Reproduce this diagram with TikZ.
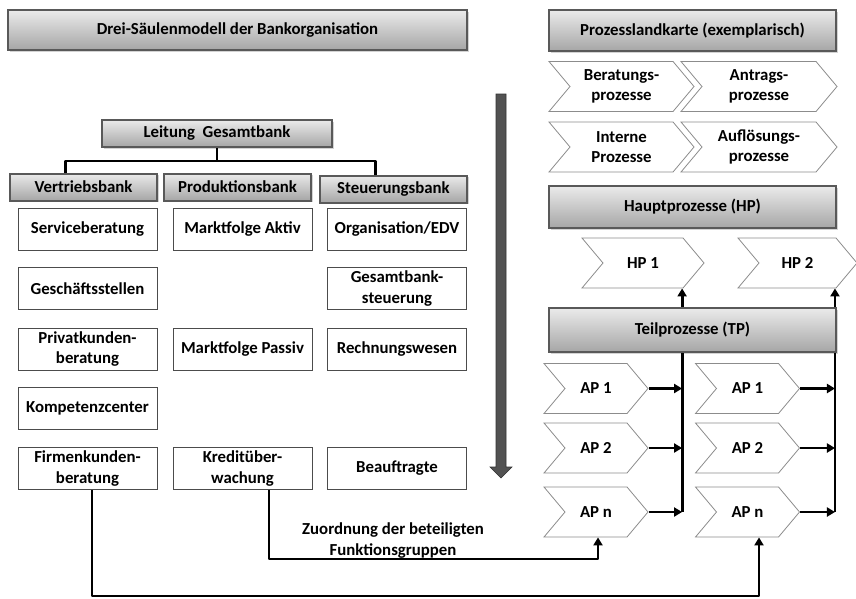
\documentclass[tikz,border=0pt]{standalone}
\usepackage{fontspec}
\setmainfont{Carlito}
\usetikzlibrary{shapes.symbols,shadows,arrows.meta,calc}

\tikzset{
  txt/.style={font=\bfseries\fontsize{16.8}{20.5}\selectfont, align=center, inner sep=0pt},
  headbox/.style={txt, draw=black!65, line width=2pt, top color=black!8, bottom color=black!35,
    drop shadow={shadow xshift=1.5pt, shadow yshift=-1.5pt, opacity=0.35}},
  unitbox/.style={txt, draw=black!70, line width=1pt, fill=white, minimum width=139pt, minimum height=42pt},
  chev/.style={txt, shape=signal, signal from=west, signal to=east, signal pointer angle=100,
    draw=black!45, line width=0.8pt, fill=white, minimum height=50pt},
  conn/.style={line width=2.9pt, black},
  arr/.style={conn, -{Triangle[length=8pt,width=9pt]}},
}

\begin{document}
\begin{tikzpicture}[x=1pt, y=-1pt]
\useasboundingbox (0,0) rectangle (856,598);

% --- Three-pillar organisation ---
\node[headbox, minimum width=459pt, minimum height=40pt] (title) at (237.5,30) {Drei-Säulenmodell der Bankorganisation};

\node[headbox, minimum width=230pt, minimum height=27pt] (lead) at (217,133.5) {Leitung\ \ Gesamtbank};
\node[headbox, minimum width=147pt, minimum height=27pt] (vert) at (83.5,187) {Vertriebsbank};
\node[headbox, minimum width=147pt, minimum height=27pt] (prod) at (237.5,187) {Produktionsbank};
\node[headbox, minimum width=147pt, minimum height=27pt] (steu) at (393.5,189) {Steuerungsbank};

\draw[line width=2.6pt, line join=round] (lead.south) -- ++(0,13) coordinate (j)
  ($(vert.north west)!0.38!(vert.north east)$) |- (j) -| ($(steu.north west)!0.38!(steu.north east)$);

% column 1
\node[unitbox] (serv) at (87.5,229) {Serviceberatung};
\node[unitbox] (gesch) at (87.5,288.5) {Geschäftsstellen};
\node[unitbox] (priv) at (87.5,349) {Privatkunden-\\beratung};
\node[unitbox] (komp) at (87.5,408.5) {Kompetenzcenter};
\node[unitbox] (firm) at (87.5,468.5) {Firmenkunden-\\beratung};
% column 2
\node[unitbox] (mfa) at (242.5,229) {Marktfolge Aktiv};
\node[unitbox] (mfp) at (242.5,349) {Marktfolge Passiv};
\node[unitbox] (kred) at (242.5,468.5) {Kreditüber-\\wachung};
% column 3
\node[unitbox] (org) at (397,229) {Organisation/EDV};
\node[unitbox] (gbs) at (397,288.5) {Gesamtbank-\\steuerung};
\node[unitbox] (rech) at (397,349) {Rechnungswesen};
\node[unitbox] (beau) at (397,468.5) {Beauftragte};

% big downward arrow
\draw[fill=black!68, draw=black!80, line width=0.6pt]
  (496,94) -- (506,94) -- (506,467) -- (512,467) -- (501,478) -- (490,467) -- (496,467) -- cycle;

% --- Process map ---
\node[headbox, minimum width=287pt, minimum height=41pt] (pk) at (692.5,30.5) {Prozesslandkarte (exemplarisch)};
\node[chev, minimum width=145pt] (ber) at (621.5,86.5) {Beratungs-\\prozesse};
\node[chev, minimum width=156pt] (ant) at (759,86.5) {Antrags-\\prozesse};
\node[chev, minimum width=145pt] (int) at (621.5,147) {Interne\\Prozesse};
\node[chev, minimum width=156pt] (auf) at (759,147) {Auflösungs-\\prozesse};

\node[headbox, minimum width=287pt, minimum height=42pt] (hp) at (692.5,207) {Hauptprozesse (HP)};
\node[chev, minimum width=122pt] (hp1) at (643,263) {HP 1};
\node[chev, minimum width=119pt] (hp2) at (797.5,263) {HP 2};

\node[headbox, minimum width=287pt, minimum height=44pt] (tp) at (692.5,330) {Teilprozesse (TP)};

\node[chev, minimum width=104pt] (apa1) at (596,388.5) {AP 1};
\node[chev, minimum width=104pt] (apa2) at (596,448) {AP 2};
\node[chev, minimum width=104pt] (apan) at (596,512) {AP n};
\node[chev, minimum width=104pt] (apb1) at (747.5,388.5) {AP 1};
\node[chev, minimum width=104pt] (apb2) at (747.5,448) {AP 2};
\node[chev, minimum width=104pt] (apbn) at (747.5,512) {AP n};

% collector lines below the sub-process bar
\coordinate (ca) at ($(tp.south west)!0.464!(tp.south east)$);
\coordinate (cb) at ($(tp.south west)!0.993!(tp.south east)$);
\draw[conn] (ca) -- (ca |- apan.east) coordinate (ca0);
\draw[conn] (cb) -- (cb |- apbn.east) coordinate (cb0);
\foreach \n in {apa1,apa2,apan} \draw[arr] (\n.east) -- (ca |- \n.east);
\foreach \n in {apb1,apb2,apbn} \draw[arr] (\n.east) -- (cb |- \n.east);

% upward links to the main processes
\draw[arr] ($(tp.north west)!0.464!(tp.north east)$) -- (hp1.south -| ca);
\draw[arr] ($(tp.north west)!0.993!(tp.north east)$) -- (hp2.south -| cb);

% assignment of the involved function groups
\draw[arr, line join=round] ([xshift=26.5pt]kred.south) -- ++(0,69) -| ([xshift=2pt]apan.south);
\draw[arr, line join=round] ([xshift=4.5pt]firm.south) -- ++(0,106) -| ([xshift=11.5pt]apbn.south);
\node[txt] (zuo) at (393,540.5) {Zuordnung der beteiligten\\Funktionsgruppen};

\end{tikzpicture}
\end{document}
